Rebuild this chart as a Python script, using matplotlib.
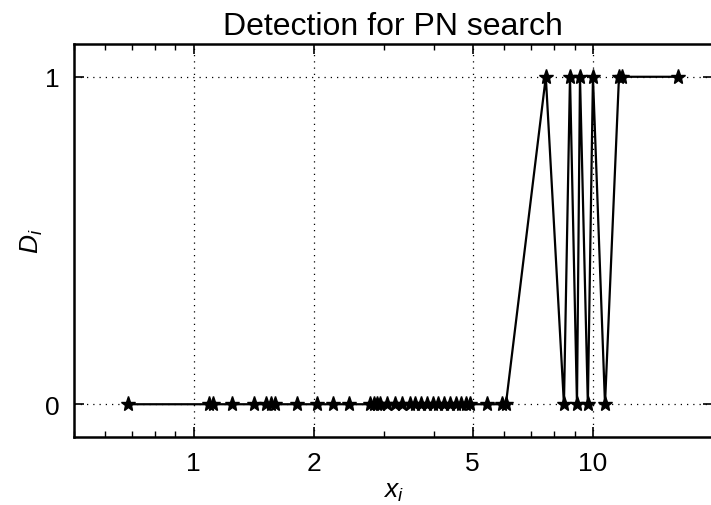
import matplotlib
matplotlib.use("Agg")
import matplotlib.pyplot as plt
from matplotlib.ticker import FixedLocator, FixedFormatter, LogLocator, NullFormatter

plt.rcParams['font.family'] = ['Liberation Sans', 'DejaVu Sans']
plt.rcParams['mathtext.fontset'] = 'custom'
plt.rcParams['mathtext.it'] = 'Liberation Sans:italic'
plt.rcParams['mathtext.rm'] = 'Liberation Sans'

# Sequence of (x_i, D_i) in drawing order
x_vals = [0.683, 1.090, 1.116, 1.245, 1.413, 1.515, 1.560, 1.596, 1.812, 2.034,
          2.230, 2.446, 2.761, 2.826, 2.875, 2.926, 3.046, 3.190, 3.321, 3.478,
          3.580, 3.707, 3.837, 3.972, 4.089, 4.233, 4.381, 4.536, 4.669, 4.805,
          4.917, 5.425, 5.914, 6.053,
          7.62, 8.46, 8.76, 9.12, 9.28, 9.71, 10.0, 10.72, 11.62, 11.82, 16.33]
d_vals = [0] * 34 + [1, 0, 1, 0, 1, 0, 1, 0, 1, 1, 1]

xticks = [1, 2, 5, 10]
xtick_labels = ["1", "2", "5", "10"]
yticks = [0, 1]

fig = plt.figure(figsize=(7.11, 5.06), dpi=100)
ax = fig.add_axes([0.1034, 0.1344, 0.8996, 0.7766])

ax.plot(x_vals, d_vals, color="black", linewidth=1.6, marker="*", markersize=11)

ax.set_xscale("log")
ax.set_xlim(0.5, 20)
ax.set_ylim(-0.1, 1.1)
ax.xaxis.set_major_locator(FixedLocator(xticks))
ax.xaxis.set_major_formatter(FixedFormatter(xtick_labels))
ax.xaxis.set_minor_locator(LogLocator(base=10, subs=range(2, 10), numticks=20))
ax.xaxis.set_minor_formatter(NullFormatter())
ax.set_yticks(yticks)
ax.set_yticklabels(["0", "1"])

ax.tick_params(which="both", direction="in", top=True, right=True, labelsize=19, pad=10)
ax.tick_params(which="major", length=7, width=1.2)
ax.tick_params(which="minor", length=4, width=1)

ax.grid(True, which="major", color="black", linestyle=(0, (1, 4)), linewidth=0.9)

for s in ax.spines.values():
    s.set_linewidth(1.8)

ax.set_title("Detection for PN search", fontsize=23, pad=7)
ax.set_xlabel("$x_i$", fontsize=19, labelpad=3)
ax.set_ylabel("$D_i$", fontsize=19, labelpad=0)

fig.savefig("out.png", dpi=100)
